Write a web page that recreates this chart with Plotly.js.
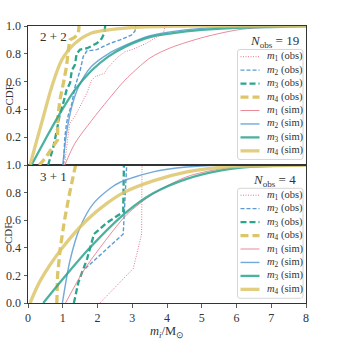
<!DOCTYPE html>
<html><head><meta charset="utf-8">
<script src="https://cdn.plot.ly/plotly-3.0.1.min.js"></script>
<style>html,body{margin:0;padding:0;background:#fff}#chart{width:343px;height:343px}</style>
</head><body><div id="chart"></div>
<script>
// ---------- DATA ----------
// Top panel: 2+2, N_obs = 19
const top_m1_obs_x = [1.05,1.11,1.16,1.2,1.35,1.45,1.59,1.7,1.83,1.93,2.2,2.3,2.41,2.6,2.79,3.0,3.4,3.7,3.9,3.94];
const top_m1_obs_y = [0,0.13,0.25,0.3,0.35,0.4,0.47,0.52,0.61,0.635,0.66,0.7,0.73,0.78,0.815,0.83,0.875,0.92,0.95,1.0];
const top_m2_obs_x = [1.02,1.06,1.11,1.16,1.26,1.35,1.5,1.59,1.69,1.98,2.36,2.65,2.98,3.08,3.1];
const top_m2_obs_y = [0,0.2,0.3,0.36,0.44,0.56,0.68,0.78,0.82,0.83,0.875,0.9,0.935,0.965,1.0];
const top_m3_obs_x = [0.58,0.73,0.83,0.92,1.02,1.11,1.21,1.26,1.35,1.4,1.5,1.7,1.98,2.12,2.2,2.22];
const top_m3_obs_y = [0,0.13,0.25,0.37,0.45,0.54,0.59,0.68,0.72,0.8,0.83,0.84,0.875,0.91,0.95,1.0];
const top_m4_obs_x = [0.32,0.5,0.63,0.78,0.85,0.86,0.92,1.02,1.11,1.16,1.21,1.35,1.45,1.47];
const top_m4_obs_y = [0,0.05,0.1,0.16,0.18,0.35,0.47,0.59,0.71,0.83,0.9,0.92,0.95,1.0];
const top_m1_sim_x = [1.06,1.35,1.83,2.31,2.79,3.51,4.12,5.07,6.1,7.0,8.0];
const top_m1_sim_y = [0,0.156,0.32,0.47,0.61,0.77,0.845,0.92,0.975,0.992,1.0];
const top_m2_sim_x = [1.0,1.11,1.26,1.45,1.83,2.31,2.79,3.51,4.09,5.0,6.0,8.0];
const top_m2_sim_y = [0,0.23,0.42,0.56,0.71,0.8,0.86,0.93,0.958,0.983,0.994,1.0];
const top_m3_sim_x = [0.1,0.49,0.87,1.35,1.83,2.31,2.79,3.51,4.12,5.0,6.0,8.0];
const top_m3_sim_y = [0,0.18,0.35,0.54,0.68,0.78,0.85,0.92,0.947,0.972,0.987,0.998];
const top_m4_sim_x = [0.06,0.2,0.39,0.68,0.97,1.35,1.83,2.79,4.0,8.0];
const top_m4_sim_y = [0,0.13,0.3,0.56,0.755,0.875,0.95,0.985,0.997,1.0];

// Bottom panel: 3+1, N_obs = 4
const bot_m1_obs_x = [2.07,3.03,3.27,3.28];
const bot_m1_obs_y = [0,0.25,0.5,1.0];
const bot_m2_obs_x = [1.65,2.74,2.84];
const bot_m2_obs_y = [0.25,0.5,1.0];
const bot_m3_obs_x = [1.32,1.45,1.7,1.9,2.26,2.74,2.76];
const bot_m3_obs_y = [0,0.15,0.32,0.5,0.58,0.66,1.0];
const bot_m4_obs_x = [0.83,0.85,0.93,1.05,1.2,1.37];
const bot_m4_obs_y = [0,0.2,0.4,0.6,0.8,1.0];
const bot_m1_sim_x = [1.08,1.59,2.07,2.84,3.6,4.57,5.5,6.5,8.0];
const bot_m1_sim_y = [0,0.23,0.4,0.64,0.79,0.915,0.97,0.995,1.0];
const bot_m2_sim_x = [0.99,1.21,1.5,1.88,2.36,2.65,3.6,4.57,5.5,8.0];
const bot_m2_sim_y = [0,0.31,0.55,0.72,0.83,0.875,0.95,0.985,0.998,1.0];
const bot_m3_sim_x = [0.44,0.99,1.78,2.84,3.6,4.57,5.53,6.5,8.0];
const bot_m3_sim_y = [0,0.17,0.4,0.66,0.795,0.9,0.96,0.988,1.0];
const bot_m4_sim_x = [0.06,0.35,0.99,1.69,2.26,2.75,3.6,4.57,5.53,6.5,8.0];
const bot_m4_sim_y = [0,0.16,0.4,0.6,0.72,0.8,0.885,0.95,0.983,0.993,1.0];

const panelLabels = ['2 + 2', '3 + 1'];
const nObs = [19, 4];
const seriesNames = ['<i>m</i><sub>1</sub> (obs)','<i>m</i><sub>2</sub> (obs)','<i>m</i><sub>3</sub> (obs)','<i>m</i><sub>4</sub> (obs)',
                     '<i>m</i><sub>1</sub> (sim)','<i>m</i><sub>2</sub> (sim)','<i>m</i><sub>3</sub> (sim)','<i>m</i><sub>4</sub> (sim)'];
const yTicksTop = [0.2,0.4,0.6,0.8,1.0];
const yTicksBot = [0.0,0.2,0.4,0.6,0.8,1.0];
const xTicks = [0,1,2,3,4,5,6,7,8];
const xTitle = '<i>m</i><sub><i>i</i></sub>/M<sub>⊙</sub>';
const yTitle = 'CDF';

// ---------- STYLE ----------
const FONT = 'Liberation Serif, Times New Roman, serif';
const INK = '#333333';
const colors = ['#e8768a','#5b9ad5','#2ca58d','#dcc66a'];
const widths = [1.0,1.4,2.3,3.3];
const dashes = ['1px,1.5px','4px,2px','6px,3px','8px,4px'];

const W = 343;
const px = p => p / W;
const py = p => 1 - p / W;

const topSeries = [
  [top_m1_obs_x, top_m1_obs_y],[top_m2_obs_x, top_m2_obs_y],[top_m3_obs_x, top_m3_obs_y],[top_m4_obs_x, top_m4_obs_y],
  [top_m1_sim_x, top_m1_sim_y],[top_m2_sim_x, top_m2_sim_y],[top_m3_sim_x, top_m3_sim_y],[top_m4_sim_x, top_m4_sim_y]];
const botSeries = [
  [bot_m1_obs_x, bot_m1_obs_y],[bot_m2_obs_x, bot_m2_obs_y],[bot_m3_obs_x, bot_m3_obs_y],[bot_m4_obs_x, bot_m4_obs_y],
  [bot_m1_sim_x, bot_m1_sim_y],[bot_m2_sim_x, bot_m2_sim_y],[bot_m3_sim_x, bot_m3_sim_y],[bot_m4_sim_x, bot_m4_sim_y]];

function styleFor(i) {
  const k = i % 4, sim = i >= 4;
  return {color: colors[k], width: widths[k], dash: sim ? 'solid' : dashes[k],
          shape: sim ? 'spline' : 'linear', smoothing: 0.8};
}

const traces = [];
[[topSeries,'x2','y2'],[botSeries,'x','y']].forEach(([ser, xa, ya]) => {
  ser.forEach((s, i) => {
    traces.push({x: s[0], y: s[1], xaxis: xa, yaxis: ya, type: 'scatter', mode: 'lines',
      line: styleFor(i), opacity: i >= 4 ? 0.85 : 1, name: seriesNames[i], showlegend: false, hoverinfo: 'skip'});
  });
});

// Manual legends (box + samples + labels)
const shapes = [], annotations = [];
function roundRect(x0, y0, x1, y1, r) {
  const X = v => px(v).toFixed(5), Y = v => py(v).toFixed(5);
  return `M${X(x0+r)},${Y(y0)} L${X(x1-r)},${Y(y0)} Q${X(x1)},${Y(y0)} ${X(x1)},${Y(y0+r)} ` +
         `L${X(x1)},${Y(y1-r)} Q${X(x1)},${Y(y1)} ${X(x1-r)},${Y(y1)} L${X(x0+r)},${Y(y1)} ` +
         `Q${X(x0)},${Y(y1)} ${X(x0)},${Y(y1-r)} L${X(x0)},${Y(y0+r)} Q${X(x0)},${Y(y0)} ${X(x0+r)},${Y(y0)} Z`;
}
const legendPanels = [
  {boxTop: 49.5, boxBot: 159.5, row0: 56.7, nY: 41.5, lab: 36.5, cdf: 95.5},
  {boxTop: 188.3, boxBot: 298.3, row0: 195.2, nY: 180.5, lab: 176, cdf: 234}
];
legendPanels.forEach((lp, p) => {
  shapes.push({type: 'path', xref: 'paper', yref: 'paper', path: roundRect(237.5, lp.boxTop, 303, lp.boxBot, 2.5),
    line: {color: '#cccccc', width: 0.8}, fillcolor: 'rgba(255,255,255,0.8)', layer: 'above'});
  for (let i = 0; i < 8; i++) {
    const yy = lp.row0 + 13.45 * i;
    const st = styleFor(i);
    shapes.push({type: 'line', xref: 'paper', yref: 'paper', x0: px(240.5), x1: px(259.5), y0: py(yy), y1: py(yy),
      line: {color: st.color, width: st.width, dash: st.dash}, opacity: i >= 4 ? 0.85 : 1, layer: 'above'});
    annotations.push({xref: 'paper', yref: 'paper', x: px(265), y: py(yy), xanchor: 'left', yanchor: 'middle',
      text: seriesNames[i], showarrow: false, font: {family: FONT, size: 10.5, color: INK}});
  }
  annotations.push({xref: 'paper', yref: 'paper', x: px(274), y: py(lp.nY), xanchor: 'center', yanchor: 'middle',
    text: '<i>N</i><sub>obs</sub> = ' + nObs[p], showarrow: false, font: {family: FONT, size: 13, color: INK}});
  annotations.push({xref: 'paper', yref: 'paper', x: px(53), y: py(lp.lab), xanchor: 'center', yanchor: 'middle',
    text: panelLabels[p], showarrow: false, font: {family: FONT, size: 13, color: INK}});
  annotations.push({xref: 'paper', yref: 'paper', x: px(0), y: py(lp.cdf), xanchor: 'left', yanchor: 'middle',
    text: yTitle, textangle: -90, showarrow: false, font: {family: FONT, size: 11, color: INK}});
});
annotations.push({xref: 'paper', yref: 'paper', x: px(167), y: py(323), xanchor: 'center', yanchor: 'top',
  text: xTitle, showarrow: false, borderpad: 0, font: {family: FONT, size: 12.5, color: INK}});

const axisCommon = {showline: true, mirror: true, linecolor: INK, linewidth: 1, showgrid: false, zeroline: false,
  ticks: 'outside', ticklen: 3.5, tickwidth: 0.8, tickcolor: INK, tickfont: {family: FONT, size: 12, color: INK}};

const layout = {
  width: 343, height: 343, margin: {l: 0, r: 0, t: 0, b: 0}, paper_bgcolor: '#fff', plot_bgcolor: '#fff',
  showlegend: false,
  xaxis: Object.assign({}, axisCommon, {domain: [px(28), px(306)], range: [0, 8], tickvals: xTicks, anchor: 'y'}),
  yaxis: Object.assign({}, axisCommon, {domain: [py(303), py(165)], range: [0, 1], tickvals: yTicksBot, tickformat: '.1f', anchor: 'x'}),
  xaxis2: Object.assign({}, axisCommon, {domain: [px(28), px(306)], range: [0, 8], matches: 'x', anchor: 'y2',
    showticklabels: false, ticks: ''}),
  yaxis2: Object.assign({}, axisCommon, {domain: [py(165), py(26)], range: [0, 1], tickvals: yTicksTop, tickformat: '.1f', anchor: 'x2'}),
  shapes: shapes, annotations: annotations
};

Plotly.newPlot('chart', traces, layout, {staticPlot: true, displayModeBar: false});
</script></body></html>
